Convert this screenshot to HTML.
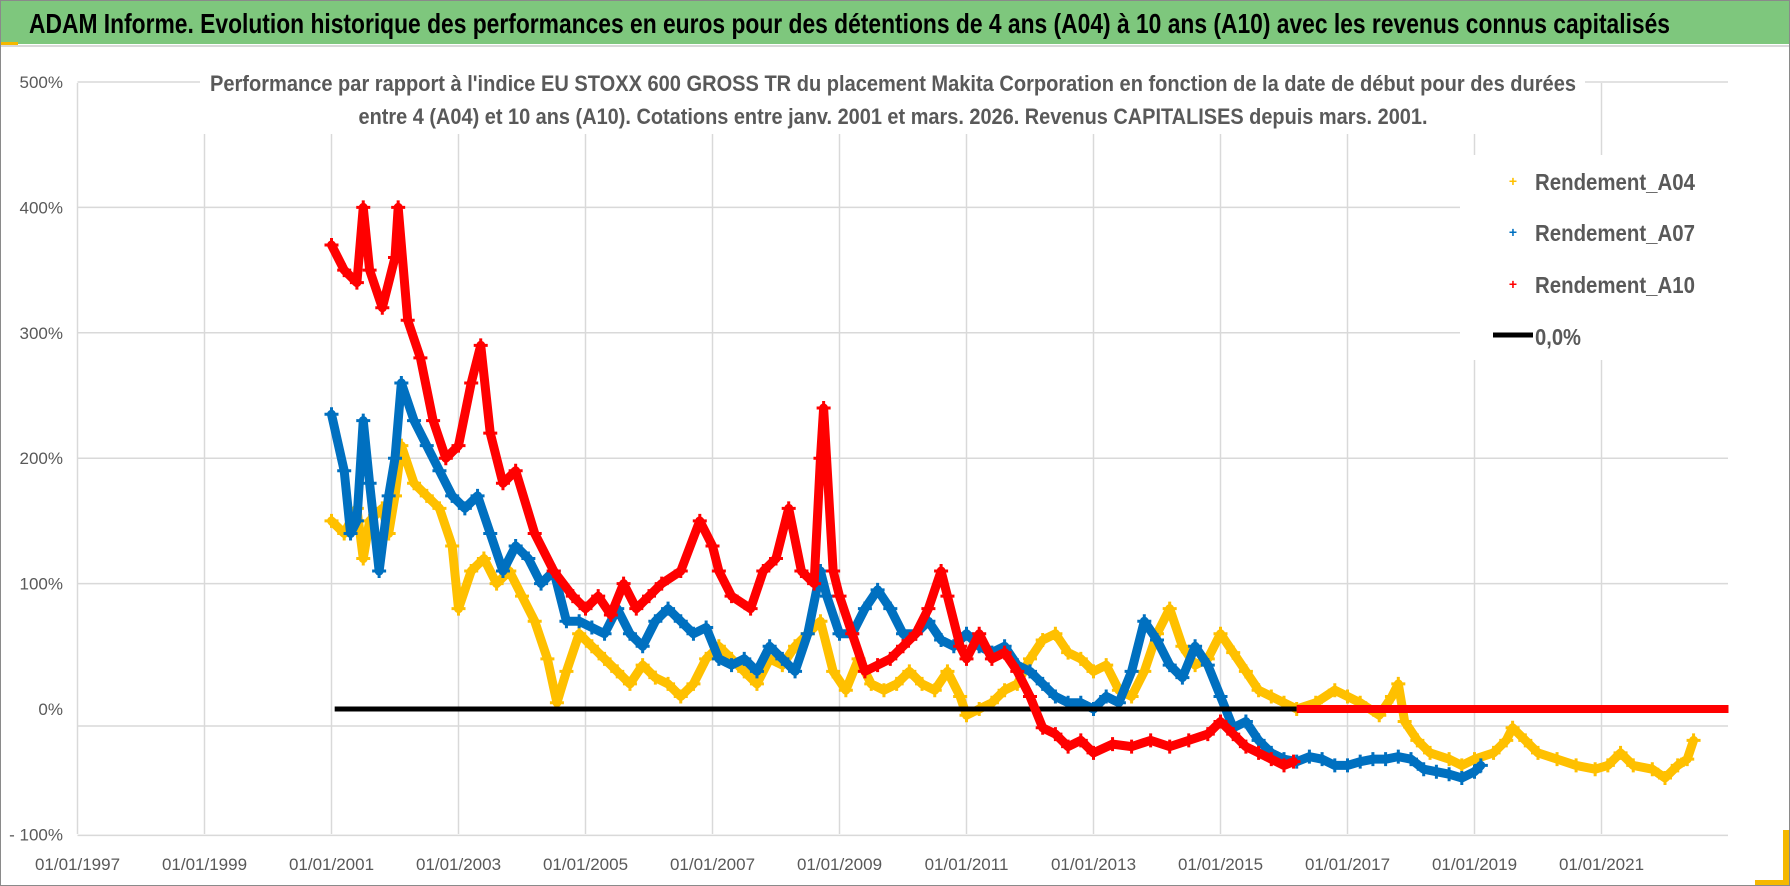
<!DOCTYPE html>
<html><head><meta charset="utf-8"><style>
html,body{margin:0;padding:0;background:#fff}
svg{display:block}
text{font-family:"Liberation Sans",sans-serif}
</style></head><body>
<svg id="chart" width="1790" height="886" viewBox="0 0 1790 886">
<rect x="0.5" y="0.5" width="1789" height="885" fill="#fff" stroke="#8a8a8a"/>
<rect x="1" y="1" width="1788" height="43" fill="#7ec77d"/>
<line x1="1" y1="46" x2="1789" y2="46" stroke="#d9d9d9" stroke-width="2"/>
<rect x="1" y="42" width="17" height="3" fill="#f5b800"/>
<rect x="1783" y="830" width="6" height="55" fill="#f5b800"/>
<rect x="1755" y="880" width="34" height="5" fill="#f5b800"/>
<text x="29" y="33" font-size="28" font-weight="bold" fill="#000" textLength="1641" lengthAdjust="spacingAndGlyphs">ADAM Informe. Evolution historique des performances en euros pour des détentions de 4 ans (A04) à 10 ans (A10) avec les revenus connus capitalisés</text>
<g id="grid"></g>
<g id="axes"></g>
<rect x="200" y="66" width="1385" height="68" fill="#fff"/>
<text x="893" y="91" text-anchor="middle" font-size="22" font-weight="bold" fill="#595959" textLength="1366" lengthAdjust="spacingAndGlyphs">Performance par rapport à l'indice EU STOXX 600 GROSS TR  du placement Makita Corporation en fonction de la date de début pour des durées</text>
<text x="893" y="124" text-anchor="middle" font-size="22" font-weight="bold" fill="#595959" textLength="1069" lengthAdjust="spacingAndGlyphs">entre 4 (A04) et 10 ans (A10).  Cotations entre janv. 2001 et mars. 2026.  Revenus CAPITALISES depuis mars. 2001.</text>
<g id="series"></g>
<g>
<rect x="1460" y="155" width="268" height="205" fill="#fff"/>
<g><text x="1513" y="186" text-anchor="middle" font-size="14" fill="#ffc000" font-weight="bold">+</text><text x="1535" y="190" font-size="23" font-weight="bold" fill="#595959" textLength="160" lengthAdjust="spacingAndGlyphs">Rendement_A04</text></g>
<g><text x="1513" y="237" text-anchor="middle" font-size="14" fill="#0070c0" font-weight="bold">+</text><text x="1535" y="241" font-size="23" font-weight="bold" fill="#595959" textLength="160" lengthAdjust="spacingAndGlyphs">Rendement_A07</text></g>
<g><text x="1513" y="289" text-anchor="middle" font-size="14" fill="#ff0000" font-weight="bold">+</text><text x="1535" y="293" font-size="23" font-weight="bold" fill="#595959" textLength="160" lengthAdjust="spacingAndGlyphs">Rendement_A10</text></g>
<g><line x1="1493" y1="335" x2="1533" y2="335" stroke="#000" stroke-width="5"/><text x="1535" y="345" font-size="23" font-weight="bold" fill="#595959" textLength="46" lengthAdjust="spacingAndGlyphs">0,0%</text></g>
</g>
</svg>
<script>
const yTicks=[500,400,300,200,100,0,-100];
const yTickLabels=["500%","400%","300%","200%","100%","0%","- 100%"];
const xTickYears=[1997,1999,2001,2003,2005,2007,2009,2011,2013,2015,2017,2019,2021];
const xTickLabels=["01/01/1997","01/01/1999","01/01/2001","01/01/2003","01/01/2005","01/01/2007","01/01/2009","01/01/2011","01/01/2013","01/01/2015","01/01/2017","01/01/2019","01/01/2021"];
const a04Dates=[2001.0,2001.2,2001.4,2001.5,2001.6,2001.8,2001.9,2002.0,2002.1,2002.3,2002.5,2002.7,2002.9,2003.0,2003.2,2003.4,2003.6,2003.8,2004.0,2004.2,2004.4,2004.55,2004.7,2004.9,2005.1,2005.3,2005.5,2005.7,2005.9,2006.1,2006.3,2006.5,2006.7,2006.9,2007.1,2007.3,2007.5,2007.7,2007.9,2008.1,2008.3,2008.5,2008.7,2008.9,2009.1,2009.3,2009.5,2009.7,2009.9,2010.1,2010.3,2010.5,2010.7,2010.9,2011.0,2011.2,2011.4,2011.6,2011.8,2012.0,2012.2,2012.4,2012.6,2012.8,2013.0,2013.2,2013.4,2013.6,2013.8,2014.0,2014.2,2014.4,2014.6,2014.8,2015.0,2015.2,2015.4,2015.6,2015.8,2016.0,2016.2,2016.5,2016.8,2017.0,2017.2,2017.5,2017.7,2017.8,2017.9,2018.1,2018.3,2018.6,2018.8,2019.0,2019.3,2019.5,2019.6,2019.8,2020.0,2020.3,2020.6,2020.9,2021.1,2021.3,2021.5,2021.8,2022.0,2022.2,2022.35,2022.45];
const a04Values=[150,140,160,120,150,160,140,170,210,180,170,160,130,80,110,120,100,110,90,70,40,5,30,60,50,40,30,20,35,25,20,10,20,40,50,40,30,20,40,35,50,60,70,30,15,40,20,15,20,30,20,15,30,10,-5,0,5,15,20,40,55,60,45,40,30,35,15,10,30,60,80,50,35,40,60,45,30,15,10,5,0,5,15,10,5,-5,10,20,-10,-25,-35,-40,-45,-40,-35,-25,-15,-25,-35,-40,-45,-48,-45,-35,-45,-48,-55,-45,-40,-25];
const a07Dates=[2001.0,2001.2,2001.3,2001.4,2001.5,2001.6,2001.75,2001.9,2002.0,2002.1,2002.3,2002.5,2002.7,2002.9,2003.1,2003.3,2003.5,2003.7,2003.9,2004.1,2004.3,2004.5,2004.7,2004.9,2005.1,2005.3,2005.5,2005.7,2005.9,2006.1,2006.3,2006.5,2006.7,2006.9,2007.1,2007.3,2007.5,2007.7,2007.9,2008.1,2008.3,2008.5,2008.7,2008.8,2009.0,2009.2,2009.4,2009.6,2009.8,2010.0,2010.2,2010.4,2010.6,2010.8,2011.0,2011.2,2011.4,2011.6,2011.8,2012.0,2012.2,2012.4,2012.6,2012.8,2013.0,2013.2,2013.4,2013.6,2013.8,2014.0,2014.2,2014.4,2014.6,2014.8,2015.0,2015.2,2015.4,2015.6,2015.8,2016.0,2016.2,2016.4,2016.6,2016.8,2017.0,2017.2,2017.4,2017.6,2017.8,2018.0,2018.2,2018.4,2018.6,2018.8,2019.0,2019.1];
const a07Values=[235,190,140,150,230,180,110,170,200,260,230,210,190,170,160,170,140,110,130,120,100,110,70,70,65,60,80,60,50,70,80,70,60,65,40,35,40,30,50,40,30,60,110,90,60,60,80,95,80,60,60,70,55,50,60,50,45,50,35,30,20,10,5,5,0,10,5,30,70,55,35,25,50,35,10,-15,-10,-25,-35,-40,-42,-38,-40,-45,-45,-42,-40,-40,-38,-40,-48,-50,-52,-55,-50,-45];
const a10Dates=[2001.0,2001.2,2001.4,2001.5,2001.6,2001.8,2002.0,2002.05,2002.2,2002.4,2002.6,2002.8,2003.0,2003.2,2003.35,2003.5,2003.7,2003.9,2004.2,2004.5,2004.8,2005.0,2005.2,2005.4,2005.6,2005.8,2006.0,2006.2,2006.5,2006.8,2007.0,2007.1,2007.3,2007.6,2007.8,2008.0,2008.2,2008.4,2008.6,2008.7,2008.75,2008.9,2009.0,2009.2,2009.4,2009.6,2009.8,2010.0,2010.2,2010.4,2010.6,2010.7,2010.9,2011.0,2011.2,2011.4,2011.6,2011.8,2012.0,2012.2,2012.4,2012.6,2012.8,2013.0,2013.3,2013.6,2013.9,2014.2,2014.5,2014.8,2015.0,2015.2,2015.4,2015.6,2015.8,2016.0,2016.15];
const a10Values=[370,350,340,400,350,320,360,400,310,280,230,200,210,260,290,220,180,190,140,110,90,80,90,75,100,80,90,100,110,150,130,110,90,80,110,120,160,110,100,200,240,110,90,60,30,35,40,50,60,80,110,90,50,40,60,40,45,30,10,-15,-20,-30,-25,-35,-28,-30,-25,-30,-25,-20,-10,-20,-30,-35,-40,-45,-42];
const a10ZeroStart=2016.2, a10ZeroEnd=2023.0;
const zeroLineStart=2001.05, zeroLineEnd=2016.2;

const NS="http://www.w3.org/2000/svg";
const X0=77.5, PXY=63.5, Y0=709, PXV=1.254, XR=1728;
function xs(yr){return X0+(yr-1997)*PXY;}
function ys(v){return Y0-v*PXV;}
function mk(tag,attrs,parent){const e=document.createElementNS(NS,tag);for(const k in attrs)e.setAttribute(k,attrs[k]);parent.appendChild(e);return e;}
const grid=document.getElementById('grid'), axes=document.getElementById('axes'), ser=document.getElementById('series');
const gridOffsets=[0,0,0,0,0,-17,-1];
yTicks.forEach((v,i)=>{
  const gy=ys(v)-gridOffsets[i];
  const l=mk('line',{x1:X0,y1:gy,x2:XR,y2:gy,stroke:'#d9d9d9','stroke-width':1.5},grid);
  
  
  const t=mk('text',{x:63,y:ys(v)+6,'text-anchor':'end','font-size':17,fill:'#595959'},axes);
  t.textContent=yTickLabels[i];
  
  
});
xTickYears.forEach((yr,i)=>{
  const gx=xs(yr);
  const l=mk('line',{x1:gx,y1:83,x2:gx,y2:834,stroke:'#d9d9d9','stroke-width':1.5},grid);
  
  
  const t=mk('text',{x:gx,y:870,'text-anchor':'middle','font-size':17,fill:'#595959'},axes);
  t.textContent=xTickLabels[i];
  
  
});
function drawSeries(dates,vals,color,name){
  const g=mk('g',{},ser);
  
  
  const pts=dates.map((d,i)=>xs(d)+','+ys(vals[i])).join(' ');
  mk('polyline',{points:pts,fill:'none',stroke:color,'stroke-width':9,'stroke-linejoin':'round','stroke-linecap':'round'},g);
  dates.forEach((d,i)=>{
    const x=xs(d),y=ys(vals[i]);
    const p=mk('path',{d:`M${x-7},${y}H${x+7}M${x},${y-7}V${y+7}`,stroke:color,'stroke-width':3},g);
    
    
  });
}
drawSeries(a04Dates,a04Values,'#ffc000','series-a04');
drawSeries(a07Dates,a07Values,'#0070c0','series-a07');
const zl=mk('line',{x1:xs(zeroLineStart),y1:ys(0),x2:xs(zeroLineEnd),y2:ys(0),stroke:'#000','stroke-width':5},ser);


drawSeries(a10Dates,a10Values,'#ff0000','series-a10');
const rz=mk('line',{x1:xs(a10ZeroStart),y1:ys(0),x2:xs(a10ZeroEnd),y2:ys(0),stroke:'#ff0000','stroke-width':8},ser);


</script>
</body></html>
